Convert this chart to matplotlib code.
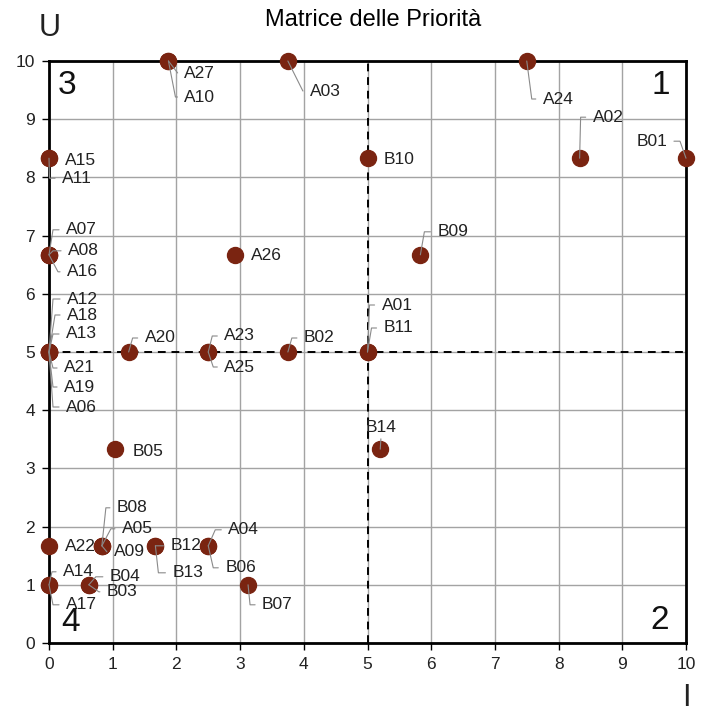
"""Matrice delle Priorità: scatter I (importanza) vs U (urgenza) con etichette e linee guida."""
import math
import matplotlib
matplotlib.use("Agg")
import matplotlib.pyplot as plt

plt.rcParams["font.family"] = ["Liberation Sans", "DejaVu Sans"]

# dati
names = ["A27", "A10", "A03", "A24", "A02", "B01", "A15", "A11", "B10",
         "A07", "A08", "A16", "A26", "B09",
         "A12", "A18", "A13", "A21", "A19", "A06", "A20", "A23", "A25", "B02",
         "A01", "B11", "B14", "B05",
         "A22", "B08", "A05", "A09", "B12", "B13", "A04", "B06",
         "A14", "A17", "B04", "B03", "B07"]
I = [1.875, 1.875, 3.75, 7.5, 8.33, 10.0, 0.0, 0.0, 5.0,
     0.0, 0.0, 0.0, 2.92, 5.83,
     0.0, 0.0, 0.0, 0.0, 0.0, 0.0, 1.25, 2.5, 2.5, 3.75,
     5.0, 5.0, 5.2, 1.04,
     0.0, 0.83, 0.83, 0.83, 1.67, 1.67, 2.5, 2.5,
     0.0, 0.0, 0.625, 0.625, 3.125]
U = [10.0, 10.0, 10.0, 10.0, 8.33, 8.33, 8.33, 8.33, 8.33,
     6.67, 6.67, 6.67, 6.67, 6.67,
     5.0, 5.0, 5.0, 5.0, 5.0, 5.0, 5.0, 5.0, 5.0, 5.0,
     5.0, 5.0, 3.33, 3.33,
     1.67, 1.67, 1.67, 1.67, 1.67, 1.67, 1.67, 1.67,
     1.0, 1.0, 1.0, 1.0, 1.0]

# posizione etichette (pixel rispetto al punto): dx, dy, x del gomito (None = senza linea)
label_pos = {
    "A27": (16, -13, 10), "A10": (16, -36, 7), "A03": (22, -30, 15), "A24": (16, -38, 5),
    "A02": (13, 41, 1), "B01": (-19, 17, -6), "A15": (16, -2, None), "A11": (13, -20, 0.5),
    "B10": (16, -1, None), "A07": (17, 25, 4), "A08": (19, 4, 4), "A16": (18, -17, 9),
    "A26": (16, -1, None), "B09": (17, 23, 4),
    "A12": (18, 53, 4), "A18": (18, 37, 6), "A13": (17, 18, 4), "A21": (15, -16, 4),
    "A19": (15, -35, 4), "A06": (17, -55, 4), "A20": (16, 14, 4), "A23": (16, 16, 4),
    "A25": (16, -15, 5), "B02": (16, 14, 4), "A01": (14, 47, 2), "B11": (16, 24, 4),
    "B14": (1, 22, "up"), "B05": (17, -2, None),
    "A22": (16, -1, None), "B08": (15, 38, 4), "A05": (20, 17, 9), "A09": (12, -6, 5),
    "B12": (15, 0, "flat"), "B13": (17, -27, 3), "A04": (20, 16, 7), "B06": (17, -22, 5),
    "A14": (14, 13, 3), "A17": (17, -20, 4), "B04": (21, 8, 7), "B03": (18, -7, 10),
    "B07": (14, -20, 2),
}

dot = "#7a2411"
lab_col = "#222222"
lead_col = "#8a8a8a"

fig = plt.figure(figsize=(7.07, 7.11), dpi=100)
ax = fig.add_axes([49 / 707, 1 - 643 / 711, 637 / 707, 582 / 711])

ax.set_xlim(0, 10); ax.set_ylim(0, 10)
ax.set_xticks(range(11)); ax.set_yticks(range(11))
ax.grid(True, color="#a3a3a3", lw=1)
ax.set_axisbelow(True)
for s in ax.spines.values():
    s.set_linewidth(2); s.set_color("black")
ax.tick_params(direction="out", length=5, width=1, labelsize=12.5, labelcolor=lab_col, pad=5)

ax.axvline(5, color="black", lw=1.4, ls=(0, (4, 3)), zorder=2)
ax.axhline(5, color="black", lw=1.4, ls=(0, (4, 3)), zorder=2)

ax.plot(I, U, "o", ms=11.5, color=dot, mec=dot, clip_on=False, zorder=4)

for n, x, y in zip(names, I, U):
    dx, dy, cx = label_pos[n]
    kw = dict(xy=(x, y), xytext=(dx, dy), textcoords="offset pixels",
              fontsize=12.5, color=lab_col, va="center", zorder=5, annotation_clip=False)
    if cx is None:
        ax.annotate(n, ha="left", **kw)
    elif cx == "up":
        ax.annotate(n, ha="center", arrowprops=dict(arrowstyle="-", color=lead_col, lw=0.8,
                    shrinkA=1, shrinkB=0, relpos=(0.5, 0.1)), **kw)
    elif cx == "flat":
        ax.annotate(n, ha="left", arrowprops=dict(arrowstyle="-", color=lead_col, lw=0.8,
                    shrinkA=3, shrinkB=0, relpos=(0, 0.5)), **kw)
    else:
        ang = math.degrees(math.atan2(dy, cx))
        left = dx > 0
        ax.annotate(n, ha="left" if left else "right",
                    arrowprops=dict(arrowstyle="-", color=lead_col, lw=0.8, shrinkA=3, shrinkB=0,
                                    relpos=(0, 0.5) if left else (1, 0.5),
                                    connectionstyle=f"angle,angleA=0,angleB={ang},rad=0"), **kw)

# numeri dei quadranti
qkw = dict(transform=ax.transAxes, fontsize=24, color="#111111")
ax.text(0.014, 0.985, "3", ha="left", va="top", **qkw)
ax.text(0.975, 0.985, "1", ha="right", va="top", **qkw)
ax.text(0.973, 0.012, "2", ha="right", va="bottom", **qkw)
ax.text(0.02, 0.008, "4", ha="left", va="bottom", **qkw)

fig.text(373 / 707, 1 - 20 / 711, "Matrice delle Priorità", ha="center", va="center", fontsize=17)
fig.text(50 / 707, 1 - 28 / 711, "U", ha="center", va="center", fontsize=22, color="#222222")
fig.text(686 / 707, 1 - 698 / 711, "I", ha="center", va="center", fontsize=22, color="#222222")

fig.savefig("out.png", dpi=100)
